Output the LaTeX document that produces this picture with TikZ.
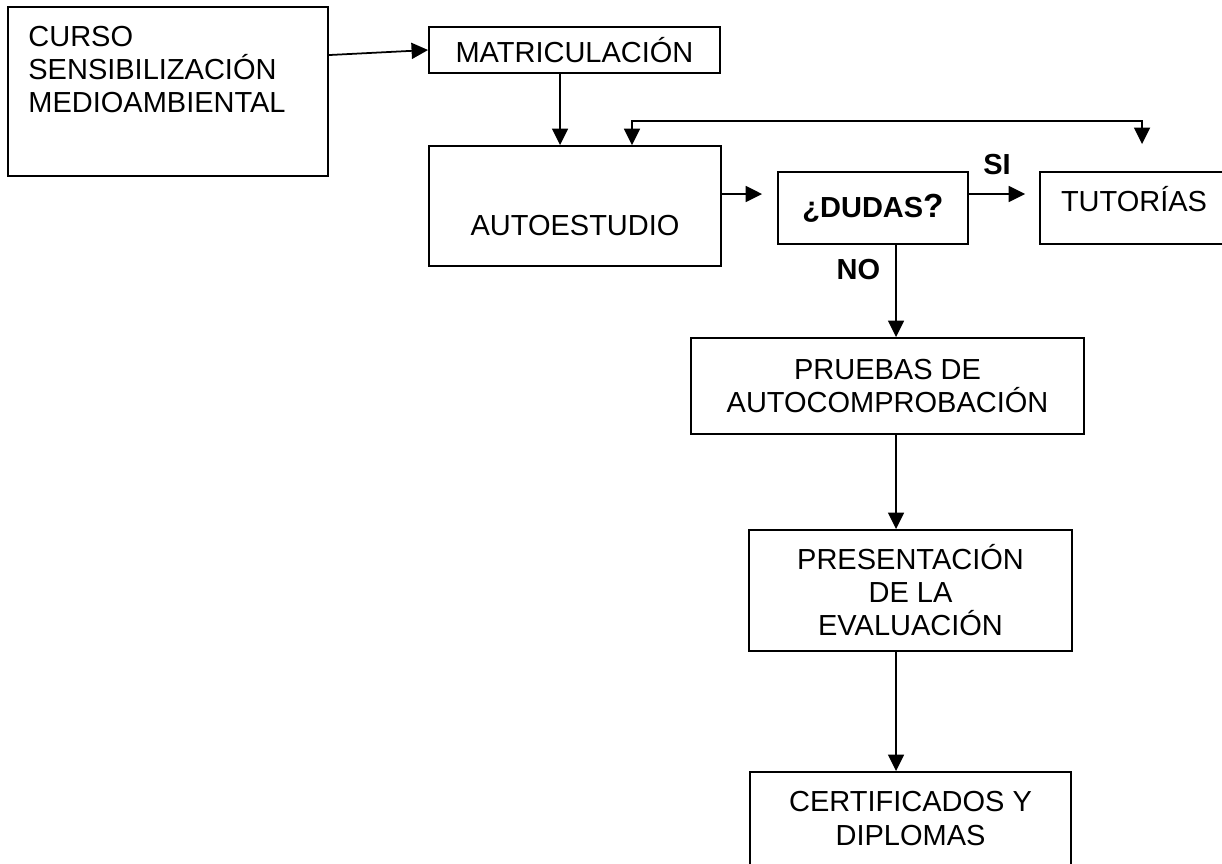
\documentclass[tikz,border=0pt]{standalone}
\usepackage{fontspec}
\setmainfont{Liberation Sans}
\usepackage{tikz}
\usetikzlibrary{arrows.meta}

\begin{document}
\begin{tikzpicture}
[
x=0.02cm, y=-0.02cm,
box/.style={rectangle, draw=black, line width=1.1pt, font=\fontsize{16.5}{18.8}\selectfont, align=center, inner sep=0pt},
txt/.style={font=\fontsize{16.5}{18.8}\selectfont, inner sep=0pt},
answer/.style={font=\fontsize{16.5}{18.8}\selectfont\bfseries, inner sep=0pt},
arr/.style={line width=1pt, -{Triangle[length=0.33cm,width=0.32cm]}},
twoway/.style={line width=1pt, {Triangle[length=0.33cm,width=0.32cm]}-{Triangle[length=0.33cm,width=0.32cm]}}
]
\useasboundingbox (0,0) rectangle (1222,863);
\clip (0,0) rectangle (1222,863);
%Nodes
\node[box, minimum width=6.4cm, minimum height=3.38cm]      (curso)     at (168,91.5)    {};
\node[txt, anchor=north west, align=left]                   (cursotxt)  at ([xshift=0.42cm, yshift=-0.4cm]curso.north west) {CURSO\\SENSIBILIZACIÓN\\MEDIOAMBIENTAL};
\node[box, minimum width=5.82cm, minimum height=0.92cm]     (matric)    at (574.5,50)    {MATRICULACIÓN};
\node[box, minimum width=5.84cm, minimum height=2.4cm, text height=1.2cm, text depth=0.04cm] (autoest) at (575,206) {AUTOESTUDIO};
\node[box, minimum width=3.8cm, minimum height=1.44cm, font=\fontsize{16.5}{18.8}\selectfont\bfseries] (dudas) at (873,208) {¿DUDAS{\fontsize{19}{20}\selectfont ?}};
\node[box, minimum width=3.76cm, minimum height=1.44cm, text height=0.5cm, text depth=0.38cm] (tutorias) at (1134,208) {TUTORÍAS};
\node[box, minimum width=7.86cm, minimum height=1.92cm]     (pruebas)   at (887.5,386)   {PRUEBAS DE\\AUTOCOMPROBACIÓN};
\node[box, minimum width=6.46cm, minimum height=2.42cm]     (present)   at (910.5,590.5) {PRESENTACIÓN\\DE LA\\EVALUACIÓN};
\node[box, minimum width=6.42cm, minimum height=1.86cm]     (certif)    at (910.5,818.5) {CERTIFICADOS Y\\DIPLOMAS};

\coordinate (tut_in) at ([xshift=0.16cm, yshift=0.54cm]tutorias.north);
\coordinate (down)   at ([xshift=0.17cm]pruebas.south);

%Lines
\draw[arr] ([yshift=-0.98cm]curso.north east) -- (matric.west);
\draw[arr] ([xshift=-0.29cm]matric.south) -- ([xshift=-0.29cm]matric.south |- autoest.north);
\draw[twoway] ([xshift=1.14cm]autoest.north) -- ++(0,-24) -| (tut_in);
\draw[arr] ([yshift=0.24cm]autoest.east) -- ([xshift=-0.3cm, yshift=0.28cm]dudas.west);
\draw[arr] ([yshift=0.28cm]dudas.east) -- ([xshift=-0.28cm, yshift=0.28cm]tutorias.west) node[answer, midway, above=0.36cm] {SI};
\draw[arr] (dudas.south -| down) node[answer, anchor=north east, xshift=-0.3cm, yshift=-0.26cm] {NO} -- (pruebas.north -| down);
\draw[arr] (pruebas.south -| down) -- (present.north -| down);
\draw[arr] (present.south -| down) -- (certif.north -| down);
\end{tikzpicture}
\end{document}
